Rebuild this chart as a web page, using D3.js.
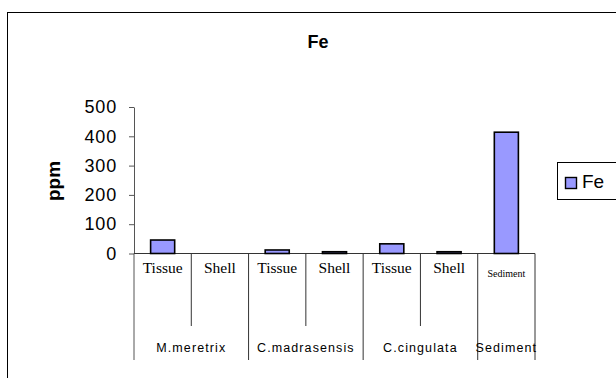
<!DOCTYPE html>
<html>
<head>
<meta charset="utf-8">
<script src="https://cdn.jsdelivr.net/npm/d3@7"></script>
<style>
  html, body { margin: 0; padding: 0; background: #fff; }
  svg { display: block; }
</style>
</head>
<body>
<svg id="chart" width="616" height="378"></svg>
<script>
const groups = ["M.meretrix", "C.madrasensis", "C.cingulata", "Sediment"];
const subLabels = ["Tissue", "Shell", "Tissue", "Shell", "Tissue", "Shell", "Sediment"];
const subGroup = [0, 0, 1, 1, 2, 2, 3];
const feValues = [46, 0, 12, 6, 33, 6, 414];
const yTicks = [0, 100, 200, 300, 400, 500];
const seriesName = "Fe";

(function () {
const svg = d3.select("#chart");
const plotL = 134, plotR = 535, plotT = 107, plotB = 253.5, axisBottom = 360;

// outer frame
svg.append("rect").attr("x", 7.5).attr("y", 12.5).attr("width", 700).attr("height", 500)
  .attr("fill", "none").attr("stroke", "#000").attr("stroke-width", 1);

// title
svg.append("text").attr("x", 318).attr("y", 48).attr("text-anchor", "middle")
  .attr("font-family", "Liberation Sans, Arial, sans-serif").attr("font-weight", "bold")
  .attr("font-size", 18).text("Fe");

const x = d3.scaleBand().domain(d3.range(subLabels.length)).range([plotL, plotR]).padding(0);
const y = d3.scaleLinear().domain([0, 500]).range([plotB, plotT]);

// y axis
const yAxis = svg.append("g").attr("transform", `translate(${plotL},0)`)
  .call(d3.axisLeft(y).tickValues(yTicks).tickSize(5).tickSizeOuter(0).tickPadding(12));
yAxis.select(".domain").attr("stroke", "#555");
yAxis.selectAll(".tick line").attr("stroke", "#555");
yAxis.selectAll(".tick text").attr("font-family", "Liberation Sans, Arial, sans-serif")
  .attr("font-size", 18).attr("letter-spacing", 0.8).attr("fill", "#000");

// axis line extension below zero
svg.append("line").attr("x1", plotL).attr("x2", plotL).attr("y1", plotB).attr("y2", axisBottom)
  .attr("stroke", "#555");
// baseline
svg.append("line").attr("x1", plotL).attr("x2", plotR).attr("y1", y(0)).attr("y2", y(0))
  .attr("stroke", "#333");

// separators
for (let i = 1; i <= subLabels.length; i++) {
  const xx = i < subLabels.length ? x(i) : plotR;
  const isGroupBoundary = i === subLabels.length || subGroup[i] !== subGroup[i - 1];
  svg.append("line").attr("x1", xx).attr("x2", xx).attr("y1", y(0))
    .attr("y2", isGroupBoundary ? axisBottom : 326).attr("stroke", "#333");
}

// bars
const bw = x.bandwidth() * 0.42;
svg.append("g").selectAll("rect").data(feValues).join("rect")
  .attr("x", (d, i) => x(i) + (x.bandwidth() - bw) / 2)
  .attr("y", d => y(d))
  .attr("width", bw)
  .attr("height", d => y(0) - y(d))
  .attr("fill", "#9999FF").attr("stroke", "#000").attr("stroke-width", 1.6);

// level-1 labels
svg.append("g").selectAll("text").data(subLabels).join("text")
  .attr("x", (d, i) => x(i) + x.bandwidth() / 2)
  .attr("y", d => d === "Sediment" ? 277 : 273)
  .attr("text-anchor", "middle")
  .attr("font-family", "Liberation Serif, Times New Roman, serif")
  .attr("font-size", d => d === "Sediment" ? 10 : 15.5)
  .text(d => d);

// level-2 labels
svg.append("g").selectAll("text").data(groups).join("text")
  .attr("x", (g, gi) => {
    const idx = subGroup.map((s, i) => s === gi ? i : -1).filter(i => i >= 0);
    const x0 = x(idx[0]), x1 = x(idx[idx.length - 1]) + x.bandwidth();
    return (x0 + x1) / 2;
  })
  .attr("y", 352)
  .attr("text-anchor", "middle")
  .attr("font-family", "Liberation Sans, Arial, sans-serif")
  .attr("font-size", 12.5).attr("letter-spacing", 1.1)
  .text(d => d);

// y axis title
svg.append("text").attr("transform", "translate(60,181) rotate(-90)")
  .attr("text-anchor", "middle")
  .attr("font-family", "Liberation Sans, Arial, sans-serif").attr("font-weight", "bold")
  .attr("font-size", 19).text("ppm");

// legend
const lg = svg.append("g");
lg.append("rect").attr("x", 557.5).attr("y", 162.5).attr("width", 80).attr("height", 37)
  .attr("fill", "#fff").attr("stroke", "#000");
lg.append("rect").attr("x", 565.5).attr("y", 177.5).attr("width", 11).attr("height", 11)
  .attr("fill", "#9999FF").attr("stroke", "#000").attr("stroke-width", 1.4);
lg.append("text").attr("x", 582).attr("y", 188)
  .attr("font-family", "Liberation Sans, Arial, sans-serif").attr("font-size", 19)
  .text(seriesName);
})();
</script>
</body>
</html>
